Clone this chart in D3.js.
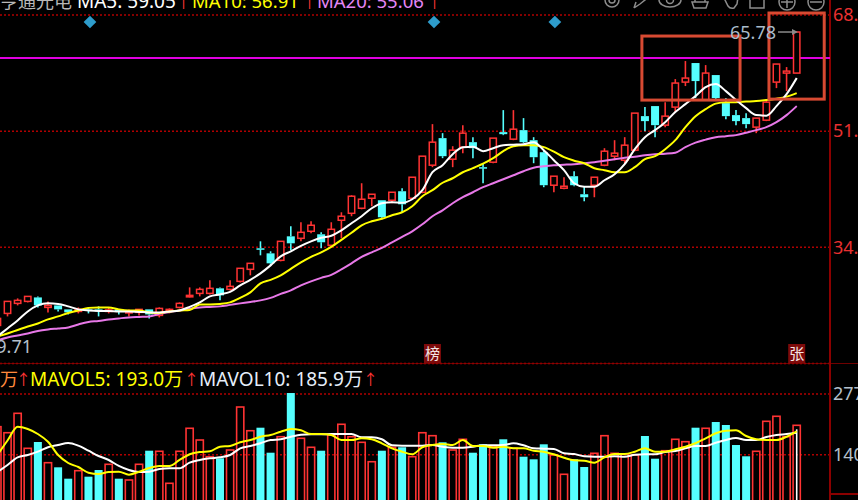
<!DOCTYPE html>
<html><head><meta charset="utf-8">
<script src="https://cdn.jsdelivr.net/npm/d3@7"></script>
<style>html,body{margin:0;padding:0;background:#000;overflow:hidden}svg{display:block}</style>
</head><body><div id="chart"></div>
<script>
const opens=[22.57,24.33,25.80,26.09,26.67,25.21,25.50,24.92,24.62,24.92,
24.92,24.62,24.92,24.48,24.48,24.92,24.04,24.77,25.21,26.82,
27.26,27.26,28.00,27.85,29.02,30.78,33.86,33.12,32.10,35.61,
35.32,36.35,35.91,34.30,37.96,38.98,39.72,41.18,40.89,40.89,
42.21,41.18,42.06,46.02,49.98,46.90,48.66,49.39,45.73,46.46,
50.86,49.83,51.15,49.68,47.92,43.09,42.65,44.41,41.77,43.09,
46.02,47.34,46.75,48.22,53.20,54.67,51.88,54.52,58.18,60.97,
55.55,59.21,55.11,53.35,52.91,51.59,52.61,58.18,59.50,59.50];
const closes=[23.60,26.09,26.24,26.82,25.50,25.50,24.92,24.48,24.92,24.70,
24.62,24.84,24.62,24.62,24.92,24.18,25.06,24.92,25.80,26.97,
27.85,28.00,26.97,28.29,30.93,31.66,33.71,31.66,34.88,34.59,
36.20,37.23,34.74,36.64,38.55,41.48,41.04,41.77,38.40,42.06,
40.30,44.26,47.34,49.39,47.34,48.22,50.71,48.51,45.58,49.98,
50.56,51.29,49.39,47.19,43.09,44.41,42.94,43.09,41.33,44.26,
48.07,47.78,48.95,53.64,52.47,51.88,53.20,58.04,58.77,58.33,
59.50,55.84,53.20,52.47,52.03,52.91,55.25,60.82,59.79,65.51];
const highs=[24.04,26.09,26.53,26.82,26.82,26.09,25.50,24.92,25.21,25.21,
25.36,25.21,24.92,24.92,24.92,24.92,25.21,25.06,25.94,28.14,
28.14,29.17,28.14,29.17,30.93,31.66,34.88,33.42,34.88,37.08,
37.67,37.81,36.20,37.67,39.13,41.62,43.38,41.77,40.89,42.06,
42.65,44.26,47.34,52.03,50.71,48.80,51.88,50.12,46.31,49.98,
54.08,54.08,52.91,50.12,48.22,44.41,44.26,45.14,42.94,44.26,
48.51,49.68,50.12,53.64,54.52,54.67,55.25,58.62,61.26,60.97,
60.67,59.21,55.84,54.08,53.64,52.91,55.69,60.82,60.38,65.51];
const lows=[22.28,23.89,25.50,25.94,25.21,24.48,24.62,24.18,24.33,24.33,
23.89,24.33,24.18,23.89,24.04,23.60,23.74,24.33,25.06,26.67,
26.82,27.11,26.24,27.70,28.85,29.90,32.83,31.36,31.95,33.56,
34.88,36.05,33.86,34.00,35.32,38.55,39.57,40.01,38.11,40.45,
39.13,41.04,41.92,45.73,47.05,45.73,47.78,47.05,43.38,46.31,
50.42,49.68,49.24,46.31,42.80,42.06,42.50,42.94,40.74,41.33,
45.87,46.75,46.31,48.07,51.00,50.12,51.59,53.79,57.60,55.84,
55.55,55.69,52.76,51.88,51.44,50.71,52.47,57.30,56.86,59.50];
const ma5=[20.96,22.13,23.30,24.62,25.50,25.80,25.72,25.36,24.92,24.77,
24.70,24.70,24.62,24.62,24.55,24.48,24.48,24.62,24.77,25.28,
25.94,26.82,27.11,27.48,28.43,29.24,30.19,31.36,32.68,33.42,
34.22,34.88,35.39,35.69,36.49,37.52,38.55,39.72,40.45,40.60,
40.52,41.04,42.36,44.99,46.02,47.63,48.66,48.73,48.07,48.51,
48.95,49.02,49.10,49.39,48.22,46.75,45.29,43.38,42.87,42.87,
43.82,44.70,46.17,48.36,50.12,51.15,52.32,53.79,54.96,56.13,
57.45,57.89,56.86,55.55,54.37,53.35,53.27,54.67,56.42,58.77];
const ma10=[20.96,21.40,21.91,22.42,22.86,23.45,23.89,24.40,24.77,25.14,
25.21,25.21,24.92,24.77,24.77,24.48,24.40,24.62,24.77,24.84,
25.65,25.65,25.72,25.94,26.60,27.41,28.73,29.24,29.90,30.85,
31.80,32.61,33.27,34.08,35.10,36.13,37.23,37.81,38.18,38.69,
39.13,40.01,41.48,42.36,43.45,44.11,44.99,45.58,46.24,47.05,
48.07,48.80,48.95,48.95,48.66,48.00,47.19,46.68,46.31,45.58,
45.29,44.99,44.99,45.73,46.90,47.34,48.36,49.68,51.59,53.20,
54.23,55.03,55.25,55.25,55.33,55.40,55.55,55.76,56.06,56.57];
const ma20=[20.37,20.81,21.11,21.40,21.77,21.99,22.13,22.28,22.72,23.08,
23.23,23.45,23.60,23.74,23.82,23.89,24.26,24.55,24.77,24.99,
25.21,25.28,25.36,25.58,25.80,26.01,26.24,26.60,27.19,27.70,
28.43,29.02,29.53,29.97,30.78,31.66,32.61,33.27,33.93,34.74,
35.54,36.35,37.37,38.55,39.42,40.45,41.33,42.06,42.80,43.38,
43.97,44.55,45.14,45.65,45.87,46.02,46.09,46.17,46.31,46.46,
46.68,46.90,47.12,47.27,47.48,47.63,47.70,47.85,48.66,49.32,
49.76,50.12,50.27,50.42,50.78,51.15,51.59,52.32,53.35,54.67];
const volumes=[203.4,189.8,233.5,154.7,168.9,122.3,111.9,86.3,104.3,90.8,
105.8,118.7,86.3,83.3,118.7,149.3,148.0,75.9,148.0,199.8,
173.4,135.8,132.2,150.9,247.7,194.3,201.1,144.8,180.8,279.2,
177.2,157.0,149.3,184.7,208.8,180.8,168.2,124.5,149.3,157.0,
157.0,135.8,189.8,183.1,168.2,150.9,175.0,144.8,163.7,158.3,
175.0,154.7,135.8,129.9,163.7,139.6,96.2,129.9,112.6,143.5,
183.1,143.5,141.9,139.6,182.4,131.3,149.3,175.0,169.6,201.1,
199.8,213.9,207.2,162.1,136.7,148.0,215.5,226.8,180.8,206.5];
const mavol5=[139.6,172.3,203.4,198.2,186.9,169.6,139.6,121.6,112.6,99.8,
96.8,101.3,102.0,95.3,102.0,110.3,114.9,114.9,128.4,141.2,
146.4,148.0,158.3,159.9,168.2,173.4,180.8,184.7,192.1,198.2,
195.2,186.9,186.9,184.7,173.4,173.4,177.2,175.0,166.0,154.7,
147.1,141.2,157.0,162.1,164.4,162.1,173.4,159.9,159.9,156.1,
158.3,154.7,154.7,149.3,147.1,141.2,133.5,127.7,126.8,122.3,
134.4,141.9,141.9,147.1,154.7,147.1,147.1,152.5,158.3,166.0,
177.2,188.5,194.3,195.2,182.4,175.0,173.4,173.4,180.8,193.0];
const mavol10=[101.3,117.1,134.4,139.6,147.1,157.0,162.1,166.6,160.6,149.3,
137.4,128.4,114.9,105.8,101.3,102.0,108.1,109.7,109.7,122.3,
128.4,132.2,134.4,139.6,154.7,159.9,166.0,173.4,175.0,180.8,
185.3,186.2,186.2,186.9,186.9,186.9,179.5,179.5,175.0,161.5,
160.6,160.6,160.6,162.1,158.3,156.1,156.1,158.3,161.5,161.5,
162.1,166.0,161.5,154.7,153.8,153.1,143.5,141.9,136.7,135.8,
135.8,136.7,135.8,140.3,141.2,141.2,146.4,148.6,154.7,159.9,
159.9,167.3,173.4,177.9,173.4,173.4,180.2,184.7,186.9,189.8];
const priceTicks=[68,51,34];
const priceTickLabels=["68.","51.","34."];
const priceGrid=[68,51,34,17];
const volTicks=[277,140];
const resistance=61.70;
const eventIndex=[9.15,43.15,55.1];
const tagIndex=[43,79];
const tagText=["榜","张"];
const boxes=[[63.7,73.4,64.92,55.55],[76.26,81.72,68.29,55.69]];

const W=858,H=500,axisX=830;
const RED="#ff3333",CYAN="#55ffff",GRID="#b00000",AXIS="#8b0000";
const FONT='"Noto Sans","Noto Sans CJK SC",sans-serif';
const n=closes.length;
const x=d3.scaleLinear().domain([0,n-1]).range([-2.6,796.7]);
const y=d3.scaleLinear().domain([17,68]).range([363.5,15]);
const yv=d3.scaleLinear().domain([0,277]).range([517,394]);
const idx=d3.range(n);
const up=i=>closes[i]>=opens[i];

const svg=d3.select("#chart").append("svg").attr("width",W).attr("height",H).style("background","#000");
const g=svg.append("g");

// grid
g.selectAll(".pg").data(priceGrid).join("line").attr("x1",0).attr("x2",axisX)
 .attr("y1",d=>y(d)).attr("y2",d=>y(d)).attr("stroke",GRID).attr("stroke-width",1.5).attr("stroke-dasharray","2 2");
g.selectAll(".vg").data(volTicks).join("line").attr("x1",0).attr("x2",axisX)
 .attr("y1",d=>yv(d)).attr("y2",d=>yv(d)).attr("stroke",GRID).attr("stroke-width",1.5).attr("stroke-dasharray","2 2");
// frame
g.append("line").attr("x1",axisX).attr("x2",axisX).attr("y1",0).attr("y2",H).attr("stroke",AXIS).attr("stroke-width",2);
g.append("line").attr("x1",0).attr("x2",W).attr("y1",y(17)).attr("y2",y(17)).attr("stroke",AXIS).attr("stroke-width",1).attr("stroke-opacity",.8);
g.append("line").attr("x1",axisX).attr("x2",W).attr("y1",494).attr("y2",494).attr("stroke",AXIS).attr("stroke-width",2);

// axes
const ax=g.append("g").attr("transform",`translate(${axisX},0)`)
 .call(d3.axisRight(y).tickValues(priceTicks).tickSize(0).tickPadding(3).tickFormat((d,i)=>priceTickLabels[i]));
ax.select(".domain").remove();
ax.selectAll("text").attr("fill","#e83030").attr("font-size",18).attr("font-family",FONT);
const axv=g.append("g").attr("transform",`translate(${axisX},0)`)
 .call(d3.axisRight(yv).tickValues(volTicks).tickSize(0).tickPadding(3).tickFormat(d=>String(d)));
axv.select(".domain").remove();
axv.selectAll("text").attr("fill","#b4c0cc").attr("font-size",18).attr("font-family",FONT);

// resistance line
g.append("line").attr("x1",0).attr("x2",axisX).attr("y1",y(resistance)).attr("y2",y(resistance)).attr("stroke","#e000e0").attr("stroke-width",2);

// event diamonds
g.selectAll(".ev").data(eventIndex).join("rect").attr("width",9).attr("height",9).attr("x",-4.5).attr("y",-4.5)
 .attr("fill","#2e9ccb").attr("transform",d=>`translate(${x(d)},22) rotate(45)`);

// candles
const cg=g.append("g");
idx.forEach(i=>{
  const c=up(i)?RED:CYAN, cx=x(i);
  const top=y(Math.max(opens[i],closes[i])), bot=y(Math.min(opens[i],closes[i]));
  cg.append("line").attr("x1",cx).attr("x2",cx).attr("y1",y(highs[i])).attr("y2",top).attr("stroke",c).attr("stroke-width",1.6);
  cg.append("line").attr("x1",cx).attr("x2",cx).attr("y1",bot).attr("y2",y(lows[i])).attr("stroke",c).attr("stroke-width",1.6);
  const h=Math.max(bot-top,1.5);
  if(up(i)) cg.append("rect").attr("x",cx-3.2).attr("width",6.4).attr("y",top).attr("height",h)
     .attr("fill","#000").attr("stroke",c).attr("stroke-width",1.5);
  else cg.append("rect").attr("x",cx-4).attr("width",8).attr("y",top).attr("height",h).attr("fill",c);
});

// MA lines
const lp=d3.line().x((d,i)=>x(i)).y(d=>y(d)).curve(d3.curveMonotoneX);
[[ma20,"#e878e8"],[ma10,"#ffff00"],[ma5,"#ffffff"]].forEach(([s,c])=>{
  g.append("path").attr("d",lp(s)).attr("fill","none").attr("stroke",c).attr("stroke-width",2);
});

// tags
tagIndex.forEach((d,i)=>{
  g.append("rect").attr("x",x(d)-8.5).attr("y",344).attr("width",17).attr("height",19).attr("fill","#7d0a0a");
  g.append("text").attr("x",x(d)).attr("y",359).attr("text-anchor","middle").attr("fill","#f4e4e4")
   .attr("font-size",15).attr("font-family",FONT).text(tagText[i]);
});

// volume bars
const vg=g.append("g");
idx.forEach(i=>{
  const cx=x(i), t=yv(volumes[i]);
  if(up(i)) vg.append("rect").attr("x",cx-3.6).attr("width",7.2).attr("y",t).attr("height",yv(0)-t)
     .attr("fill","none").attr("stroke",RED).attr("stroke-width",1.6);
  else vg.append("rect").attr("x",cx-4).attr("width",8).attr("y",t).attr("height",yv(0)-t).attr("fill",CYAN);
});
const lv=d3.line().x((d,i)=>x(i)).y(d=>yv(d)).curve(d3.curveMonotoneX);
g.append("line").attr("x1",x(n-1)).attr("x2",x(n-1)).attr("y1",yv(volumes[n-1])+4).attr("y2",H).attr("stroke","#fff").attr("stroke-width",1.6);
g.append("path").attr("d",lv(mavol10)).attr("fill","none").attr("stroke","#fff").attr("stroke-width",2);
g.append("path").attr("d",lv(mavol5)).attr("fill","none").attr("stroke","#ffff00").attr("stroke-width",2);

// annotation boxes
g.selectAll(".box").data(boxes).join("rect")
 .attr("x",d=>x(d[0])).attr("width",d=>x(d[1])-x(d[0]))
 .attr("y",d=>y(d[2])).attr("height",d=>y(d[3])-y(d[2]))
 .attr("fill","none").attr("stroke","#d84a32").attr("stroke-width",3);

// text helpers
function txt(xp,yp,s,c,size){
  return g.append("text").attr("x",xp).attr("y",yp).attr("fill",c).attr("font-size",size||19).attr("font-family",FONT).text(s);
}
// top legend
txt(0,8,"亨通光电","#b8b8b8",18);
txt(77,8,"MA5: 59.05","#ffffff");
txt(176,8,"↑",RED,15);
txt(192,8,"MA10: 56.91","#ffff00",18.5);
txt(302,8,"↑",RED,15);
txt(317,8,"MA20: 55.06","#e486f6",18.5);
txt(427,8,"↑",RED,15);
// volume legend
txt(0,386,"万","#ff8a3c",18);
txt(16,385,"↑",RED,15);
txt(30,386,"MAVOL5: 193.0万","#ffff00");
txt(184,385,"↑",RED,15);
txt(199,386,"MAVOL10: 185.9万","#e6eefa");
txt(363,385,"↑",RED,15);
// min/max labels
txt(32,353,"19.71","#b4c0cc",18).attr("text-anchor","end");
txt(730,39,"65.78","#a9bccb",18);
// max arrow
g.append("line").attr("x1",778).attr("x2",793).attr("y1",y(65.51)).attr("y2",y(65.51)).attr("stroke","#8a8a8a").attr("stroke-width",1.5);
g.append("path").attr("d",`M798,${y(65.51)}l-6,-3v6z`).attr("fill","#8a8a8a");

// toolbar icons (clipped by top edge)
const ic=g.append("g").attr("fill","none").attr("stroke","#8c8c8c").attr("stroke-width",1.5);
ic.append("circle").attr("cx",612).attr("cy",0).attr("r",7);
ic.append("circle").attr("cx",612).attr("cy",0).attr("r",3);
ic.append("path").attr("d","M634,8 L640,4 L650,-4 M634,8 L636,2");
ic.append("ellipse").attr("cx",670).attr("cy",0).attr("rx",11).attr("ry",7);
ic.append("circle").attr("cx",670).attr("cy",0).attr("r",3.5);
ic.append("path").attr("d","M692,2 H708 L706,8 H694 Z M695,2 V-4 M705,2 V-4");
ic.append("path").attr("d","M724,-2 L728,6 Q730,9 734,8 L737,4 L738,-3");
ic.append("rect").attr("x",750).attr("y",-6).attr("width",14).attr("height",14);
ic.append("circle").attr("cx",787).attr("cy",2).attr("r",8);
ic.append("path").attr("d","M781,2H793M787,-4V8");
ic.append("circle").attr("cx",816).attr("cy",2).attr("r",8);
ic.append("path").attr("d","M810,2H822");
</script></body></html>
